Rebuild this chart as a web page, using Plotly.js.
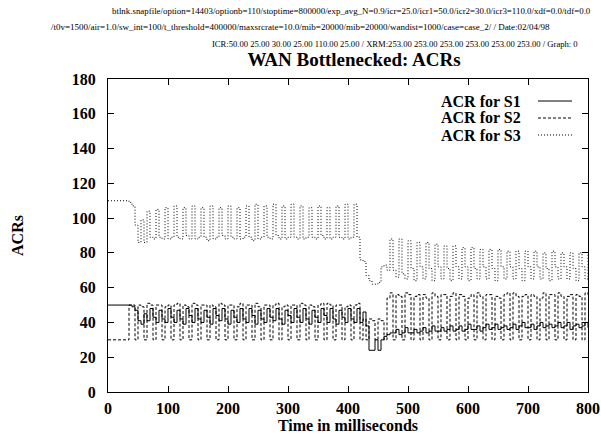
<!DOCTYPE html>
<html>
<head>
<meta charset="utf-8">
<script src="https://cdn.plot.ly/plotly-3.0.1.min.js"></script>
<style>html,body{margin:0;padding:0;background:#fff;}#chart{width:601px;height:443px;}</style>
</head>
<body>
<div id="chart"></div>
<script>
const timeMs = [0,5,10,15,20,25,30,35,40,45,50,55,60,65,70,75,80,85,90,95,
100,105,110,115,120,125,130,135,140,145,150,155,160,165,170,175,180,185,190,195,
200,205,210,215,220,225,230,235,240,245,250,255,260,265,270,275,280,285,290,295,
300,305,310,315,320,325,330,335,340,345,350,355,360,365,370,375,380,385,390,395,
400,405,410,415,420,425,430,435,440,445,450,455,460,465,470,475,480,485,490,495,
500,505,510,515,520,525,530,535,540,545,550,555,560,565,570,575,580,585,590,595,
600,605,610,615,620,625,630,635,640,645,650,655,660,665,670,675,680,685,690,695,
700,705,710,715,720,725,730,735,740,745,750,755,760,765,770,775,780,785,790,795,800];

const acrS1 = [50,50,50,50,50,50,50,50,
49,47,41,39,45,41,48,43,40,47,42,40,
48,43,40, 47,42,39, 48,44,40, 48,42,40, 47,43,39, 48,44,41, 48,42,39, 47,43,40, 48,42,40, 48,44,39, 47,42,40,
48,43,41, 48,42,39, 47,44,40, 48,43,40, 48,42,39, 47,43,40, 48,44,40, 48,42,39, 47,43,40, 48,42,40,
48,40,46,38,24,24,30,24,30,32,33,34,34,
36,33,34, 37,34,34, 36,34,35, 37,34,35, 38,35,35, 37,35,36, 38,35,36, 38,35,36, 39,36,36, 38,35,37, 39,36,37,
39,36,37, 38,36,37, 39,36,38, 40,37,37, 39,36,38, 40,37,38, 39,37,38, 40,37,38, 40,36,38, 39,37,38,
40,37];

const acrS2 = [30,30,30,30,30,30,30,
50,50,30,
50,49,30, 51,50,30, 50,50,30, 49,50,30, 50,51,30, 50,49,30, 51,50,30, 50,50,30, 50,49,30, 51,50,30, 50,50,30, 49,51,30, 50,50,30,
51,49,30, 50,50,30, 50,51,30, 49,50,30, 50,50,30, 51,50,30, 50,49,30, 50,51,30, 51,50,30, 50,50,30, 49,50,30, 50,51,30,
42,30,42,41,30,42,41,30,54,57,30,
56,55,30, 57,56,30, 55,56,30, 56,54,30, 57,55,30, 56,56,30, 55,57,30, 56,55,30, 54,56,30, 57,55,30, 56,56,30,
55,54,30, 56,57,30, 57,55,30, 55,56,30, 56,55,30, 54,57,30, 56,56,30, 57,55,30, 55,56,30, 56,55,30,
57,56];

const acrS3 = [110,110,110,110,110,110,110,
109,107,96,86,99,86,104,89,88,
105,89,88, 106,88,89, 107,89,88, 106,90,88, 107,88,89, 106,89,87, 107,88,89, 106,90,88, 107,89,88, 106,88,89, 107,89,87,
108,88,89, 107,89,88, 108,90,88, 107,88,89, 108,89,88, 107,88,89, 106,89,88, 107,90,88, 106,88,89, 107,89,88, 108,88,89,
108,
89,76,75,67,64,62,62,63,72,73,70,88,70,66,88,68,65,
87,71,64, 86,72,65, 86,71,64, 85,72,65, 84,71,64, 84,72,65, 83,72,64, 83,71,65, 82,72,65, 82,71,64,
82,72,65, 81,72,65, 81,71,64, 81,72,65, 81,72,65, 80,71,64, 81,72,65, 80,72,65, 80,71,64, 80,72,65,
80];

const seriesNames = ["ACR for S1", "ACR for S2", "ACR for S3"];
const seriesValues = [acrS1, acrS2, acrS3];
const seriesDash = ["solid", "3px,2px", "1px,2px"];

const headerLines = [
  "btlnk.snapfile/option=14403/optionb=110/stoptime=800000/exp_avg_N=0.9/icr=25.0/icr1=50.0/icr2=30.0/icr3=110.0/xdf=0.0/tdf=0.0",
  "/t0v=1500/air=1.0/sw_int=100/t_threshold=400000/maxsrcrate=10.0/mib=20000/mib=20000/wandist=1000/case=case_2/ / Date:02/04/98",
  "ICR:50.00 25.00 30.00 25.00 110.00 25.00 / XRM:253.00 253.00 253.00 253.00 253.00 253.00 / Graph: 0"
];

const FONT = "Liberation Serif, Times New Roman, serif";
const W = 601, H = 443;
const M = {l:108, r:13, t:79, b:51};
const PW = W - M.l - M.r, PH = H - M.t - M.b;
const px2x = p => (p - M.l) / PW;
const py2y = p => (H - M.b - p) / PH;

const traces = seriesValues.map((vals, k) => ({
  type: "scatter", mode: "lines", x: timeMs, y: vals, name: seriesNames[k],
  line: {shape: "hv", color: "#000", width: 1, dash: seriesDash[k]},
  showlegend: false, hoverinfo: "skip"
}));

const annotations = [];
const headerCenter = [351, 300, 395];
const headerY = [11, 27, 44];
const headerSize = [8.9, 9, 8.6];
headerLines.forEach((t, i) => annotations.push({
  text: t, xref: "paper", yref: "paper", x: px2x(headerCenter[i]), y: py2y(headerY[i]),
  xanchor: "center", yanchor: "middle", showarrow: false,
  font: {family: FONT, size: headerSize[i], color: "#000"}
}));

const legendRowY = [101, 118, 135];
const shapes = [];
seriesNames.forEach((n, k) => {
  annotations.push({
    text: n, xref: "paper", yref: "paper", x: px2x(522), y: py2y(legendRowY[k]),
    xanchor: "right", yanchor: "middle", showarrow: false, borderpad: 0,
    font: {family: FONT, size: 16, color: "#000", weight: "bold"}
  });
  shapes.push({
    type: "line", xref: "paper", yref: "paper",
    x0: px2x(538), x1: px2x(572), y0: py2y(legendRowY[k]), y1: py2y(legendRowY[k]),
    line: {color: "#000", width: 1, dash: seriesDash[k]}
  });
});

const axisCommon = {
  showline: true, linecolor: "#000", linewidth: 1, mirror: "ticks",
  ticks: "inside", ticklen: 6, tickcolor: "#000", tickwidth: 1,
  showgrid: false, zeroline: false,
  tickfont: {family: FONT, size: 16, color: "#000", weight: "bold"}
};

const layout = {
  width: W, height: H, margin: M,
  paper_bgcolor: "#fff", plot_bgcolor: "#fff",
  title: {text: "WAN Bottlenecked: ACRs", xref: "container", x: 354 / W, xanchor: "center",
          yref: "container", y: 1 - 59 / H, yanchor: "middle",
          font: {family: FONT, size: 19, color: "#000", weight: "bold"}},
  xaxis: Object.assign({}, axisCommon, {range: [0, 800], dtick: 100, tick0: 0,
    ticklabelstandoff: 2,
    title: {text: "Time in milliseconds", standoff: 0,
            font: {family: FONT, size: 16, color: "#000", weight: "bold"}}}),
  yaxis: Object.assign({}, axisCommon, {range: [0, 180], dtick: 20, tick0: 0,
    ticklabelstandoff: 8,
    title: {text: "ACRs", standoff: 44,
            font: {family: FONT, size: 16, color: "#000", weight: "bold"}}}),
  annotations: annotations, shapes: shapes
};

Plotly.newPlot("chart", traces, layout, {displayModeBar: false, staticPlot: true});
</script>
</body>
</html>
